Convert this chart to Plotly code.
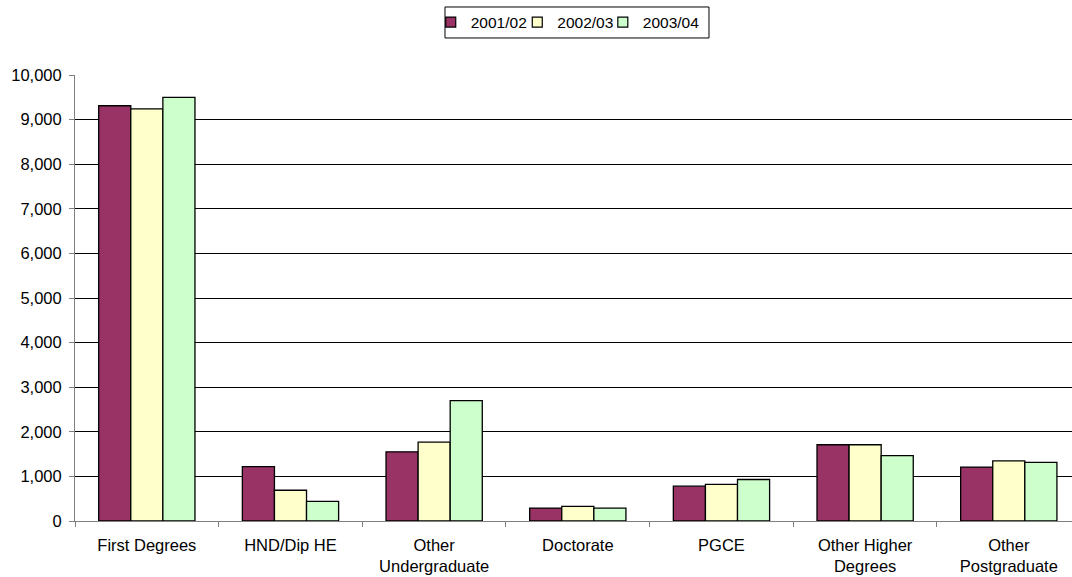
import plotly.graph_objects as go

categories = ["First Degrees", "HND/Dip HE", "Other<br>Undergraduate", "Doctorate",
              "PGCE", "Other Higher<br>Degrees", "Other<br>Postgraduate"]
series_names = ["2001/02", "2002/03", "2003/04"]
v2001 = [9310, 1220, 1550, 290, 780, 1710, 1210]
v2002 = [9240, 690, 1770, 330, 820, 1710, 1350]
v2003 = [9500, 440, 2700, 290, 930, 1465, 1315]
colors = ["#993366", "#FFFFCC", "#CCFFCC"]

legend_ids = ["legend", "legend2", "legend3"]
legend_x = [0.3568, 0.4436, 0.5294]

fig = go.Figure()
for name, vals, c in zip(series_names, [v2001, v2002, v2003], colors):
    fig.add_trace(go.Bar(x=categories, y=vals, name=name, showlegend=False,
                         marker=dict(color=c, line=dict(color="black", width=1.3))))
# legend keys (small squares like the original)
for name, c, lid in zip(series_names, colors, legend_ids):
    fig.add_trace(go.Scatter(x=[None], y=[None], mode="markers", name=name, legend=lid,
                             marker=dict(symbol="square", size=10, color=c,
                                         line=dict(color="black", width=1.2))))

font = dict(family="Liberation Sans, Arial, sans-serif", size=16.5, color="black")
legfont = dict(family="Liberation Sans, Arial, sans-serif", size=15.5, color="black")

layout_legends = {}
for lid, lx in zip(legend_ids, legend_x):
    layout_legends[lid] = dict(x=lx, xanchor="left", y=1.1177, yanchor="middle",
                               orientation="h", borderwidth=0, bgcolor="rgba(0,0,0,0)",
                               font=legfont, itemwidth=30)

fig.update_layout(
    width=1072, height=577,
    margin=dict(l=75, r=0, t=75, b=56, autoexpand=False),
    paper_bgcolor="white", plot_bgcolor="white",
    font=font,
    barmode="group", bargap=0.33, bargroupgap=0,
    showlegend=True,
    xaxis=dict(range=[-0.5, 6.44], showline=True, linecolor="#808080", linewidth=1,
               ticks="outside", tickson="boundaries", ticklen=5, tickcolor="#808080",
               showgrid=False, tickfont=font, automargin=False, ticklabelstandoff=9),
    yaxis=dict(range=[0, 10000], dtick=1000, tickformat=",d", showline=True,
               linecolor="#808080", linewidth=1, ticks="outside", ticklen=5,
               tickcolor="#808080", showgrid=True, gridcolor="black", gridwidth=1,
               zeroline=False, tickfont=font, automargin=False, ticklabelstandoff=4),
    **layout_legends,
)
# legend frame
fig.add_shape(type="rect", xref="paper", yref="paper",
              x0=0.3711, x1=0.6359, y0=1.0830, y1=1.1525,
              line=dict(color="black", width=1), fillcolor="rgba(0,0,0,0)")

fig.write_html("out.html", config={"displayModeBar": False},
               post_script="document.body.style.margin='0';")
